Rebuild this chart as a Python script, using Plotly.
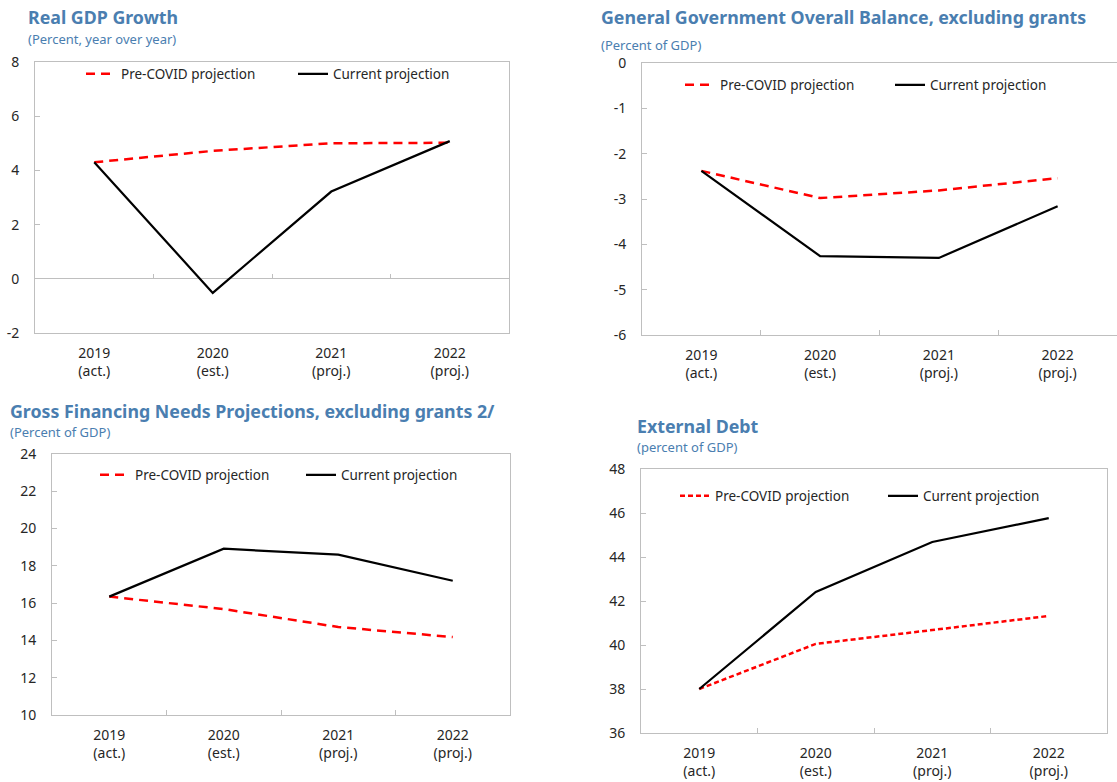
import plotly.graph_objects as go

W, H = 1117, 782

categories = ["2019<br>(act.)", "2020<br>(est.)", "2021<br>(proj.)", "2022<br>(proj.)"]

gdp_pre = [4.3, 4.72, 5.0, 5.02]
gdp_cur = [4.3, -0.52, 3.22, 5.08]
gdp_ticks = [-2, 0, 2, 4, 6, 8]

bal_pre = [-2.38, -2.98, -2.81, -2.54]
bal_cur = [-2.38, -4.26, -4.30, -3.16]
bal_ticks = [-6, -5, -4, -3, -2, -1, 0]

gfn_pre = [16.35, 15.68, 14.72, 14.18]
gfn_cur = [16.35, 18.92, 18.60, 17.20]
gfn_ticks = [10, 12, 14, 16, 18, 20, 22, 24]

ext_pre = [38.0, 40.05, 40.68, 41.32]
ext_cur = [38.0, 42.41, 44.68, 45.77]
ext_ticks = [36, 38, 40, 42, 44, 46, 48]

titles = ["Real GDP Growth", "General Government Overall Balance, excluding grants",
          "Gross Financing Needs Projections, excluding grants 2/", "External Debt"]
subtitles = ["(Percent, year over year)", "(Percent of GDP)", "(Percent of GDP)", "(percent of GDP)"]

FONT = "Noto Sans"
BLUE = "#4A7EB0"
GRID = "#BFBFBF"
TXT = "#262626"

def px_x(p):
    return p / W

def px_y(p):
    return 1 - p / H

# panel geometry (pixels): x0, x1, ytop, ybottom
panels = [
    dict(x=(35, 509), y=(62, 333), ticks=gdp_ticks, pre=gdp_pre, cur=gdp_cur, dash="9px,6px",
         title=(26, 17), sub=(26, 39), leg=(81, 74), ew=167),
    dict(x=(642, 1117), y=(63, 335), ticks=bal_ticks, pre=bal_pre, cur=bal_cur, dash="9px,6px",
         title=(599, 17), sub=(599, 45), leg=(680, 85), ew=165),
    dict(x=(52, 510), y=(454, 715), ticks=gfn_ticks, pre=gfn_pre, cur=gfn_cur, dash="9px,6px",
         title=(8, 411), sub=(8, 432), leg=(95, 475), ew=161),
    dict(x=(641, 1107), y=(469, 733), ticks=ext_ticks, pre=ext_pre, cur=ext_cur, dash="5px,3px",
         title=(635, 426), sub=(635, 447), leg=(675, 496), ew=163),
]

fig = go.Figure()
layout = dict(
    width=W, height=H, margin=dict(l=0, r=0, t=0, b=0, autoexpand=False), autosize=False,
    paper_bgcolor="white", plot_bgcolor="white",
    font=dict(family=FONT, size=13, color=TXT),
    annotations=[], showlegend=True,
)

for i, p in enumerate(panels):
    n = i + 1
    xa = "x" if n == 1 else f"x{n}"
    ya = "y" if n == 1 else f"y{n}"
    lg = "legend" if n == 1 else f"legend{n}"
    fig.add_trace(go.Scatter(x=categories, y=p["pre"], mode="lines", name="Pre-COVID projection",
                             line=dict(color="#FF0000", width=2.5, dash=p["dash"]),
                             xaxis=xa, yaxis=ya, legend=lg, hoverinfo="skip"))
    fig.add_trace(go.Scatter(x=categories, y=p["cur"], mode="lines", name="Current projection",
                             line=dict(color="#000000", width=2.2),
                             xaxis=xa, yaxis=ya, legend=lg, hoverinfo="skip"))
    xdom = [px_x(p["x"][0]), min(1.0, px_x(p["x"][1]))]
    ydom = [px_y(p["y"][1]), px_y(p["y"][0])]
    xkey = "xaxis" if n == 1 else f"xaxis{n}"
    ykey = "yaxis" if n == 1 else f"yaxis{n}"
    tv = p["ticks"]
    layout[xkey] = dict(
        domain=xdom, anchor=ya, type="category", categoryarray=categories,
        range=[-0.5, 3.5], showgrid=False, zeroline=False,
        showline=True, linecolor=GRID, linewidth=1, mirror=True,
        ticks="" if n == 1 else "inside", tickson="boundaries", ticklen=5, tickcolor=GRID,
        tickfont=dict(size=14, color=TXT), ticklabelstandoff=7, fixedrange=True,
        automargin=False,
    )
    layout[ykey] = dict(
        domain=ydom, anchor=xa, range=[tv[0], tv[-1]],
        tickmode="array", tickvals=tv, ticktext=[str(v) for v in tv],
        showgrid=False, zeroline=(n == 1), zerolinecolor=GRID, zerolinewidth=1,
        showline=True, linecolor=GRID, linewidth=1, mirror=True,
        ticks="inside", ticklen=5, tickcolor=GRID,
        tickfont=dict(size=14, color=TXT), ticklabelstandoff=12, fixedrange=True,
        automargin=False,
    )
    layout[lg] = dict(
        orientation="h", x=px_x(p["leg"][0]), y=px_y(p["leg"][1]),
        xanchor="left", yanchor="middle", xref="container", yref="container",
        bgcolor="rgba(0,0,0,0)", font=dict(size=13.5, color=TXT),
        entrywidth=p["ew"], entrywidthmode="pixels", itemwidth=30,
    )
    layout["annotations"].append(dict(
        text=f"<b>{titles[i]}</b>", x=px_x(p["title"][0]), y=px_y(p["title"][1]),
        xref="paper", yref="paper", xanchor="left", yanchor="middle", showarrow=False,
        font=dict(size=17.8, color=BLUE, family=FONT)))
    layout["annotations"].append(dict(
        text=subtitles[i], x=px_x(p["sub"][0]), y=px_y(p["sub"][1]),
        xref="paper", yref="paper", xanchor="left", yanchor="middle", showarrow=False,
        font=dict(size=13, color=BLUE, family=FONT)))

# zero-crossing category axis for panel 1 (ticks drawn on the zero line)
p0 = panels[0]
ydom0 = [px_y(p0["y"][1]), px_y(p0["y"][0])]
r0 = p0["ticks"]
zero_pos = ydom0[0] + (0 - r0[0]) / (r0[-1] - r0[0]) * (ydom0[1] - ydom0[0])
layout["xaxis5"] = dict(
    overlaying="x", anchor="free", position=zero_pos, side="bottom",
    range=[-0.5, 3.5], tickmode="array", tickvals=[0.5, 1.5, 2.5],
    ticks="inside", ticklen=5, tickcolor=GRID, showticklabels=False,
    showgrid=False, zeroline=False, showline=False, fixedrange=True, automargin=False,
)
fig.add_trace(go.Scatter(x=[None], y=[None], xaxis="x5", yaxis="y", showlegend=False, hoverinfo="skip"))

fig.update_layout(**layout)
fig.write_html(
    "out.html",
    config={"displayModeBar": False},
    post_script="document.body.style.margin='0';document.body.style.padding='0';"
                "document.documentElement.style.overflow='hidden';",
)
